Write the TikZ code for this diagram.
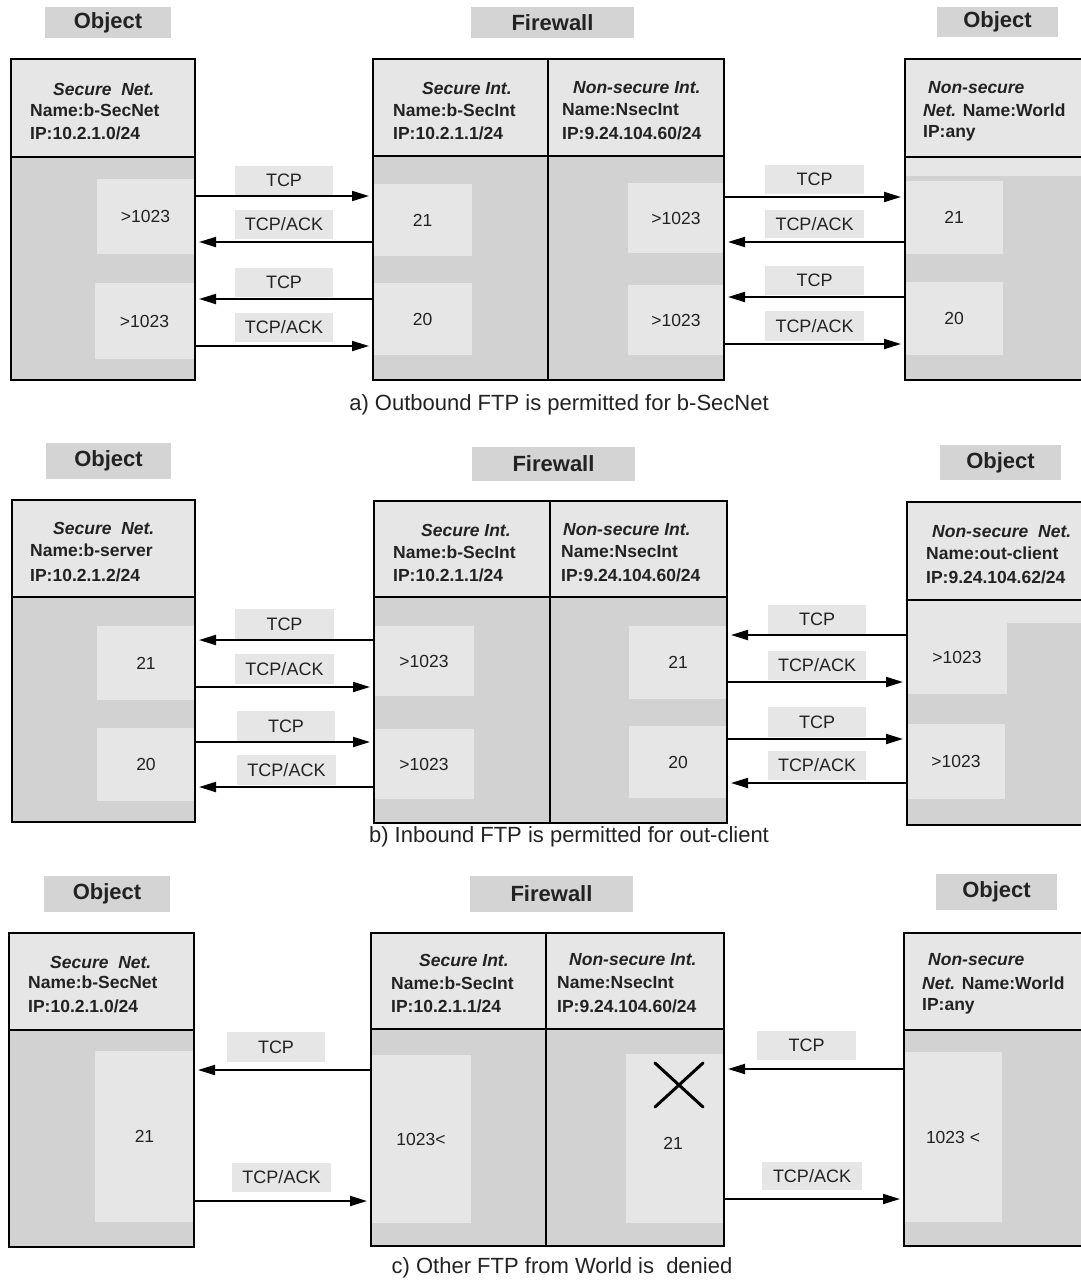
\documentclass[tikz,border=0pt]{standalone}
\usepackage{fontspec}
\setmainfont{Liberation Sans}
\usetikzlibrary{arrows.meta}

\definecolor{titlegray}{HTML}{D4D4D4}
\definecolor{hdrgray}{HTML}{E6E6E6}
\definecolor{bodygray}{HTML}{D2D2D2}
\definecolor{portgray}{HTML}{E6E6E6}
\definecolor{ink}{HTML}{222222}

\tikzset{
  titlebox/.style={fill=titlegray, text=ink, font=\fontsize{22}{25}\selectfont\bfseries},
  framebox/.style={draw=black, line width=2pt},
  portbox/.style={fill=portgray, text=ink, font=\fontsize{17.5}{20}\selectfont},
  msgbox/.style={fill=portgray, text=ink, font=\fontsize{18}{20}\selectfont},
  hdrtext/.style={anchor=west, inner sep=0pt, text=ink, font=\fontsize{17.5}{20}\selectfont\bfseries},
  captext/.style={inner sep=0pt, text=ink, font=\fontsize{22}{25}\selectfont},
  divline/.style={line width=2pt},
  arr/.style={line width=2pt, -{Triangle[length=17pt,width=10pt]}, shorten >=4pt, shorten <=1pt},
}

% rectangle node from its top-left and bottom-right corners
% #1 style, #2 name, #3 x1, #4 y1, #5 x2, #6 y2, #7 text
\newcommand\rectnode[7]{%
  \node[#1, anchor=north west, inner sep=0pt, outer sep=0pt,
        minimum width={(#5-#3)*1pt}, minimum height={(#6-#4)*1pt}] (#2) at (#3,#4) {#7};}

% shaded header and body of a box: x1, top, x2, divider, bottom
\newcommand\shadebox[5]{%
  \fill[hdrgray] (#1,#2) rectangle (#3,#4);
  \fill[bodygray] (#1,#4) rectangle (#3,#5);}

\begin{document}
\begin{tikzpicture}[x=1pt, y=-1pt]
\useasboundingbox (0,0) rectangle (1080,1283);

% ================= a) Outbound FTP =================
\rectnode{titlebox}{aT1}{45}{7}{171}{38}{Object}
\rectnode{titlebox}{aT2}{471}{7}{634}{38}{Firewall}
\rectnode{titlebox}{aT3}{937}{7}{1058}{37}{Object}

\shadebox{11}{59}{195}{157}{380}
\shadebox{373}{59}{724}{156}{380}
\shadebox{905}{59}{1095}{157}{380}
\fill[hdrgray] (905,157) rectangle (1095,176);

\rectnode{portbox}{aP1}{97}{179}{194}{254}{>1023}
\rectnode{portbox}{aP2}{95}{283}{194}{359}{>1023}
\rectnode{portbox}{aP3}{373}{184}{472}{256}{21}
\rectnode{portbox}{aP4}{373}{283}{472}{355}{20}
\rectnode{portbox}{aP5}{628}{183}{724}{253}{>1023}
\rectnode{portbox}{aP6}{628}{285}{724}{355}{>1023}
\rectnode{portbox}{aP7}{905}{181}{1003}{254}{21}
\rectnode{portbox}{aP8}{905}{282}{1003}{355}{20}

\rectnode{framebox}{aL}{11}{59}{195}{380}{}
\rectnode{framebox}{aF}{373}{59}{724}{380}{}
\rectnode{framebox}{aR}{905}{59}{1095}{380}{}
\draw[divline] (aL.west |- 0,157) -- (aL.east |- 0,157);
\draw[divline] (aF.west |- 0,156) -- (aF.east |- 0,156);
\draw[divline] (aR.west |- 0,157) -- (aR.east |- 0,157);
\draw[divline] (aF.north -| 548,0) -- (aF.south -| 548,0);

\node[hdrtext] at (53,89) {\itshape Secure\ \ Net.};
\node[hdrtext] at (30,110) {Name:b-SecNet};
\node[hdrtext] at (30,133) {IP:10.2.1.0/24};
\node[hdrtext] at (422,88) {\itshape Secure Int.};
\node[hdrtext] at (393,110) {Name:b-SecInt};
\node[hdrtext] at (393,133) {IP:10.2.1.1/24};
\node[hdrtext] at (573,88) {\itshape Non-secure Int.};
\node[hdrtext] at (562,110) {Name:NsecInt};
\node[hdrtext] at (562,133) {IP:9.24.104.60/24};
\node[hdrtext] at (928,88) {\itshape Non-secure};
\node[hdrtext] at (923,110) {{\itshape Net.} Name:World};
\node[hdrtext] at (923,133) {IP:any};

\rectnode{msgbox}{aM1}{235}{166}{333}{195}{TCP}
\rectnode{msgbox}{aM2}{235}{210}{333}{239}{TCP/ACK}
\rectnode{msgbox}{aM3}{235}{268}{333}{297}{TCP}
\rectnode{msgbox}{aM4}{235}{313}{333}{342}{TCP/ACK}
\rectnode{msgbox}{aM5}{765}{165}{864}{194}{TCP}
\rectnode{msgbox}{aM6}{765}{210}{864}{238}{TCP/ACK}
\rectnode{msgbox}{aM7}{765}{266}{864}{295}{TCP}
\rectnode{msgbox}{aM8}{765}{311}{864}{341}{TCP/ACK}

\draw[arr] (aL.east |- 0,196) -- (aF.west |- 0,196);
\draw[arr] (aF.west |- 0,242) -- (aL.east |- 0,242);
\draw[arr] (aF.west |- 0,299) -- (aL.east |- 0,299);
\draw[arr] (aL.east |- 0,346) -- (aF.west |- 0,346);
\draw[arr] (aF.east |- 0,197) -- (aR.west |- 0,197);
\draw[arr] (aR.west |- 0,242) -- (aF.east |- 0,242);
\draw[arr] (aR.west |- 0,297) -- (aF.east |- 0,297);
\draw[arr] (aF.east |- 0,344) -- (aR.west |- 0,344);

\node[captext] (aCap) at (559,405) {a) Outbound FTP is permitted for b-SecNet};

% ================= b) Inbound FTP =================
\rectnode{titlebox}{bT1}{46}{443}{171}{479}{Object}
\rectnode{titlebox}{bT2}{472}{447}{635}{481}{Firewall}
\rectnode{titlebox}{bT3}{940}{445}{1061}{480}{Object}

\shadebox{12}{500}{195}{597}{822}
\shadebox{374}{501}{727}{597}{823}
\shadebox{907}{502}{1095}{600}{825}
\fill[hdrgray] (907,600) rectangle (1095,623);

\rectnode{portbox}{bP1}{97}{626}{195}{700}{21}
\rectnode{portbox}{bP2}{97}{728}{195}{801}{20}
\rectnode{portbox}{bP3}{374}{626}{474}{696}{>1023}
\rectnode{portbox}{bP4}{374}{729}{474}{799}{>1023}
\rectnode{portbox}{bP5}{629}{626}{727}{699}{21}
\rectnode{portbox}{bP6}{629}{726}{727}{798}{20}
\rectnode{portbox}{bP7}{907}{621}{1007}{694}{>1023}
\rectnode{portbox}{bP8}{907}{724}{1005}{799}{>1023}

\rectnode{framebox}{bL}{12}{500}{195}{822}{}
\rectnode{framebox}{bF}{374}{501}{727}{823}{}
\rectnode{framebox}{bR}{907}{502}{1095}{825}{}
\draw[divline] (bL.west |- 0,597) -- (bL.east |- 0,597);
\draw[divline] (bF.west |- 0,597) -- (bF.east |- 0,597);
\draw[divline] (bR.west |- 0,600) -- (bR.east |- 0,600);
\draw[divline] (bF.north -| 550,0) -- (bF.south -| 550,0);

\node[hdrtext] at (53,528) {\itshape Secure\ \ Net.};
\node[hdrtext] at (30,550) {Name:b-server};
\node[hdrtext] at (30,575) {IP:10.2.1.2/24};
\node[hdrtext] at (421,530) {\itshape Secure Int.};
\node[hdrtext] at (393,552) {Name:b-SecInt};
\node[hdrtext] at (393,575) {IP:10.2.1.1/24};
\node[hdrtext] at (563,530) {\itshape Non-secure Int.};
\node[hdrtext] at (561,552) {Name:NsecInt};
\node[hdrtext] at (561,575) {IP:9.24.104.60/24};
\node[hdrtext] at (932,532) {\itshape Non-secure\ \ Net.};
\node[hdrtext] at (926,553) {Name:out-client};
\node[hdrtext] at (926,577) {IP:9.24.104.62/24};

\rectnode{msgbox}{bM1}{235}{609}{334}{639}{TCP}
\rectnode{msgbox}{bM2}{235}{654}{334}{684}{TCP/ACK}
\rectnode{msgbox}{bM3}{237}{711}{335}{741}{TCP}
\rectnode{msgbox}{bM4}{237}{755}{336}{785}{TCP/ACK}
\rectnode{msgbox}{bM5}{768}{605}{866}{634}{TCP}
\rectnode{msgbox}{bM6}{768}{651}{866}{680}{TCP/ACK}
\rectnode{msgbox}{bM7}{768}{707}{866}{737}{TCP}
\rectnode{msgbox}{bM8}{768}{751}{866}{780}{TCP/ACK}

\draw[arr] (bF.west |- 0,640) -- (bL.east |- 0,640);
\draw[arr] (bL.east |- 0,687) -- (bF.west |- 0,687);
\draw[arr] (bL.east |- 0,742) -- (bF.west |- 0,742);
\draw[arr] (bF.west |- 0,787) -- (bL.east |- 0,787);
\draw[arr] (bR.west |- 0,635) -- (bF.east |- 0,635);
\draw[arr] (bF.east |- 0,682) -- (bR.west |- 0,682);
\draw[arr] (bF.east |- 0,739) -- (bR.west |- 0,739);
\draw[arr] (bR.west |- 0,783) -- (bF.east |- 0,783);

\node[captext] (bCap) at (569,837) {b) Inbound FTP is permitted for out-client};

% ================= c) Other FTP denied =================
\rectnode{titlebox}{cT1}{44}{876}{170}{912}{Object}
\rectnode{titlebox}{cT2}{470}{876}{633}{912}{Firewall}
\rectnode{titlebox}{cT3}{936}{874}{1057}{910}{Object}

\shadebox{9}{933}{194}{1030}{1247}
\shadebox{371}{933}{724}{1029}{1246}
\shadebox{904}{933}{1095}{1030}{1246}

\rectnode{portbox}{cP1}{95}{1051}{194}{1222}{21}
\rectnode{portbox}{cP2}{371}{1055}{471}{1223}{1023<}
\rectnode{portbox}{cP3}{626}{1054}{724}{1223}{}
\rectnode{portbox}{cP4}{904}{1052}{1002}{1222}{1023 <}
\node[text=ink, font=\fontsize{17.5}{20}\selectfont, inner sep=0pt] (cP3t) at (673,1143) {21};
\draw[line width=3pt, line cap=round] (655,1063) -- (703,1107) (703,1063) -- (655,1107);

\rectnode{framebox}{cL}{9}{933}{194}{1247}{}
\rectnode{framebox}{cF}{371}{933}{724}{1246}{}
\rectnode{framebox}{cR}{904}{933}{1095}{1246}{}
\draw[divline] (cL.west |- 0,1030) -- (cL.east |- 0,1030);
\draw[divline] (cF.west |- 0,1029) -- (cF.east |- 0,1029);
\draw[divline] (cR.west |- 0,1030) -- (cR.east |- 0,1030);
\draw[divline] (cF.north -| 546,0) -- (cF.south -| 546,0);

\node[hdrtext] at (50,962) {\itshape Secure\ \ Net.};
\node[hdrtext] at (28,982) {Name:b-SecNet};
\node[hdrtext] at (28,1006) {IP:10.2.1.0/24};
\node[hdrtext] at (419,960) {\itshape Secure Int.};
\node[hdrtext] at (391,983) {Name:b-SecInt};
\node[hdrtext] at (391,1006) {IP:10.2.1.1/24};
\node[hdrtext] at (569,960) {\itshape Non-secure Int.};
\node[hdrtext] at (557,983) {Name:NsecInt};
\node[hdrtext] at (557,1006) {IP:9.24.104.60/24};
\node[hdrtext] at (928,960) {\itshape Non-secure};
\node[hdrtext] at (922,983) {{\itshape Net.} Name:World};
\node[hdrtext] at (922,1006) {IP:any};

\rectnode{msgbox}{cM1}{227}{1032}{325}{1062}{TCP}
\rectnode{msgbox}{cM2}{232}{1163}{331}{1192}{TCP/ACK}
\rectnode{msgbox}{cM3}{757}{1031}{856}{1060}{TCP}
\rectnode{msgbox}{cM4}{762}{1162}{862}{1190}{TCP/ACK}

\draw[arr] (cF.west |- 0,1070) -- (cL.east |- 0,1070);
\draw[arr] (cL.east |- 0,1201) -- (cF.west |- 0,1201);
\draw[arr] (cR.west |- 0,1069) -- (cF.east |- 0,1069);
\draw[arr] (cF.east |- 0,1199) -- (cR.west |- 0,1199);

\node[captext] (cCap) at (562,1268) {c) Other FTP from World is\ \ denied};

\end{tikzpicture}
\end{document}
